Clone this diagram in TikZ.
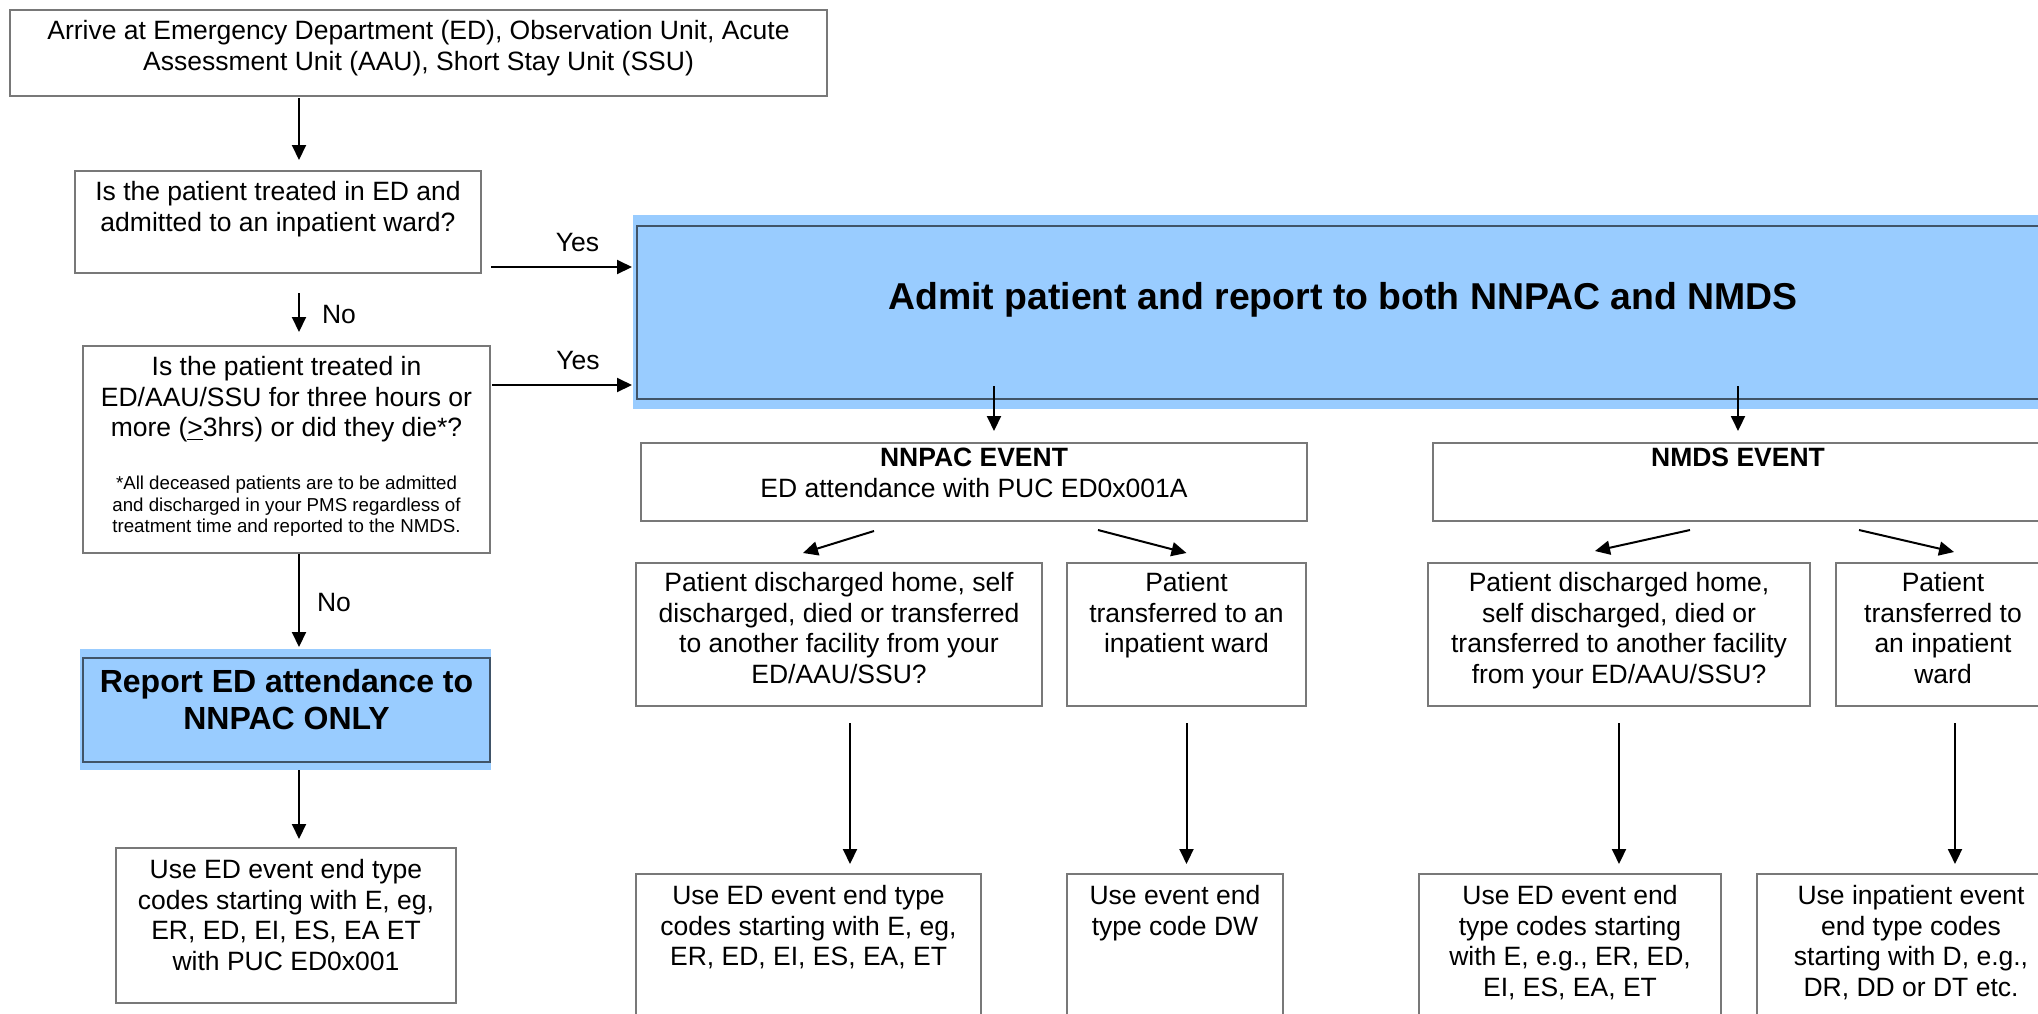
\documentclass[tikz,border=0pt]{standalone}
\usepackage{fontspec}
\setmainfont{Liberation Sans}
\usetikzlibrary{arrows.meta}
\usetikzlibrary{positioning}
\usetikzlibrary{fit}
\usetikzlibrary{calc}
\usetikzlibrary{backgrounds}
\definecolor{admitblue}{RGB}{153,204,255}
\definecolor{admitedge}{RGB}{64,84,104}
\definecolor{boxedge}{RGB}{120,120,120}

\begin{document}
\begin{tikzpicture}[x=0.5pt,y=-0.5pt,
    box/.style={draw=boxedge,line width=1pt,inner sep=0pt},
    bluebox/.style={draw=admitedge,line width=1pt,fill=admitblue,inner sep=0pt},
    txt/.style={align=center,inner sep=0pt,font=\fontsize{13.25pt}{15.25pt}\selectfont},
    note/.style={align=center,inner sep=0pt,font=\fontsize{9.35pt}{10.65pt}\selectfont},
    bigtxt/.style={align=center,inner sep=0pt,font=\bfseries\fontsize{16pt}{18.35pt}\selectfont},
    titletxt/.style={align=center,inner sep=0pt,font=\bfseries\fontsize{18.7pt}{21.5pt}\selectfont},
    lbl/.style={inner sep=0pt,font=\fontsize{13.25pt}{15.25pt}\selectfont},
    arr/.style={line width=1pt,-{Triangle[length=7.5pt,width=7pt]}}]
  \path[use as bounding box,clip] (0,0) rectangle (2038,1013);

  % left column
  \node[box,fit={(10,10) (827,96)}] (arrive) {};
  \node[txt,below=5.5pt of arrive.north] (arrivet)
    {Arrive at Emergency Department (ED), Observation Unit, Acute\\
     Assessment Unit (AAU), Short Stay Unit (SSU)};
  \node[box,fit={(75,171) (481,273)}] (edward) {};
  \node[txt,below=5.6pt of edward.north] (edwardt)
    {Is the patient treated in ED and\\admitted to an inpatient ward?};
  \node[box,fit={(83,346) (490,553)}] (threehr) {};
  \node[txt,below=5.6pt of threehr.north] (threehrt)
    {Is the patient treated in\\ED/AAU/SSU for three hours or\\
     more (\underline{>}3hrs) or did they die*?};
  \node[note,below=65.5pt of threehr.north] (threehrn)
    {*All deceased patients are to be admitted\\
     and discharged in your PMS regardless of\\
     treatment time and reported to the NMDS.};
  \node[bluebox,fit={(83,658) (490,762)}] (nnpaconly) {};
  \node[bigtxt,below=6pt of nnpaconly.north] (nnpaconlyt)
    {Report ED attendance to\\NNPAC ONLY};
  \node[box,fit={(116,848) (456,1003)}] (edcodes) {};
  \node[txt,below=6pt of edcodes.north] (edcodest)
    {Use ED event end type\\codes starting with E, eg,\\
     ER, ED, EI, ES, EA ET\\with PUC ED0x001};

  % admitted side
  \node[bluebox,fit={(637,226) (2049,399)}] (admit) {};
  \node[titletxt,below=28.5pt of admit.north] (admitt)
    {Admit patient and report to both NNPAC and NMDS};
  \begin{scope}[on background layer]
    \fill[admitblue] ($(admit.north west)+(-3,-10)$) rectangle ($(admit.south east)+(10,9)$);
    \fill[admitblue] ($(nnpaconly.north west)+(-2,-8)$) rectangle ($(nnpaconly.south east)+(0,7)$);
  \end{scope}

  \node[box,fit={(641,443) (1307,521)}] (nnpac) {};
  \node[txt,below=3pt of nnpac.north] (nnpact)
    {\textbf{NNPAC EVENT}\\ED attendance with PUC ED0x001A};
  \node[box,fit={(1433,443) (2043,521)}] (nmds) {};
  \node[txt,below=3pt of nmds.north] (nmdst) {\textbf{NMDS EVENT}};

  \node[box,fit={(636,563) (1042,706)}] (nnhome) {};
  \node[txt,below=5pt of nnhome.north] (nnhomet)
    {Patient discharged home, self\\discharged, died or transferred\\
     to another facility from your\\ED/AAU/SSU?};
  \node[box,fit={(1067,563) (1306,706)}] (nnward) {};
  \node[txt,below=5pt of nnward.north] (nnwardt)
    {Patient\\transferred to an\\inpatient ward};
  \node[box,fit={(1428,563) (1810,706)}] (nmhome) {};
  \node[txt,below=5pt of nmhome.north] (nmhomet)
    {Patient discharged home,\\self discharged, died or\\
     transferred to another facility\\from your ED/AAU/SSU?};
  \node[box,fit={(1836,563) (2050,706)}] (nmward) {};
  \node[txt,below=5pt of nmward.north] (nmwardt)
    {Patient\\transferred to\\an inpatient\\ward};

  \node[box,fit={(636,874) (981,1030)}] (nnhomecode) {};
  \node[txt,below=6pt of nnhomecode.north] (nnhomecodet)
    {Use ED event end type\\codes starting with E, eg,\\ER, ED, EI, ES, EA, ET};
  \node[box,fit={(1067,874) (1283,1030)}] (nnwardcode) {};
  \node[txt,below=6pt of nnwardcode.north] (nnwardcodet)
    {Use event end\\type code DW};
  \node[box,fit={(1419,874) (1721,1030)}] (nmhomecode) {};
  \node[txt,below=6pt of nmhomecode.north] (nmhomecodet)
    {Use ED event end\\type codes starting\\with E, e.g., ER, ED,\\EI, ES, EA, ET};
  \node[box,fit={(1757,874) (2065,1030)}] (nmwardcode) {};
  \node[txt,below=6pt of nmwardcode.north] (nmwardcodet)
    {Use inpatient event\\end type codes\\starting with D, e.g.,\\DR, DD or DT etc.};

  % connectors
  \coordinate (lane) at (299,0);
  \draw[arr,shorten <=0.5pt,shorten >=5pt] (arrive.south -| lane) -- (edward.north -| lane);
  \draw[arr,shorten <=9.5pt,shorten >=6.5pt] (edward.south -| lane) -- (threehr.north -| lane)
    node[lbl,right=11pt,pos=0.57] (no1) {No};
  \draw[arr,shorten >=5pt] (threehr.south -| lane) -- (nnpaconly.north -| lane)
    node[lbl,right=8.5pt,pos=0.47] (no2) {No};
  \draw[arr,shorten <=3.5pt,shorten >=4pt] (nnpaconly.south -| lane) -- (edcodes.north -| lane);

  \coordinate (yes1) at ([yshift=3.5pt]edward.south east);
  \draw[arr,shorten <=4.5pt,shorten >=2pt] (yes1) -- (yes1 -| admit.west)
    node[lbl,above=7.25pt,pos=0.62] (yeslbl1) {Yes};
  \coordinate (yes2) at ([yshift=-20pt]threehr.north east);
  \draw[arr,shorten <=0.5pt,shorten >=2pt] (yes2) -- (yes2 -| admit.west)
    node[lbl,above=7.25pt,pos=0.6] (yeslbl2) {Yes};

  \coordinate (nnin) at ([xshift=10pt]nnpac.north);
  \draw[arr,shorten <=-7pt,shorten >=5.5pt] (nnin |- admit.south) -- (nnin);
  \draw[arr,shorten <=-7pt,shorten >=5.5pt] (nmds.north |- admit.south) -- (nmds.north);

  \draw[arr] ($(nnpac.south)+(-100,9)$) -- ($(nnhome.north)+(-36,-9)$);
  \draw[arr] ($(nnpac.south)+(124,8)$) -- ($(nnward.north)+(0,-9)$);
  \draw[arr] ($(nmds.south)+(-48,8)$) -- ($(nmhome.north)+(-24,-11)$);
  \draw[arr] ($(nmds.south)+(121,8)$) -- ($(nmward.north)+(11,-10)$);

  \coordinate (nnhomeout) at ([xshift=5.5pt]nnhome.south);
  \draw[arr,shorten <=8pt,shorten >=4.5pt] (nnhomeout) -- (nnhomeout |- nnhomecode.north);
  \draw[arr,shorten <=8pt,shorten >=4.5pt] (nnward.south) -- (nnward.south |- nnwardcode.north);
  \draw[arr,shorten <=8pt,shorten >=4.5pt] (nmhome.south) -- (nmhome.south |- nmhomecode.north);
  \coordinate (nmwardout) at ([xshift=6pt]nmward.south);
  \draw[arr,shorten <=8pt,shorten >=4.5pt] (nmwardout) -- (nmwardout |- nmwardcode.north);
\end{tikzpicture}
\end{document}
